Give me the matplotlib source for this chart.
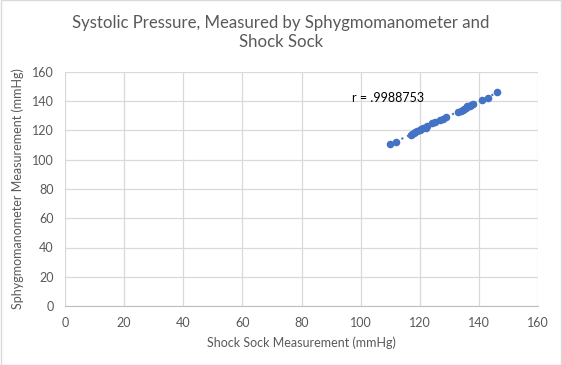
import matplotlib
matplotlib.use("Agg")
import matplotlib.pyplot as plt
import numpy as np

# Data
sock = [110, 112, 117, 117.5, 118, 118.5, 119, 120, 120.5, 121, 122, 122.5,
        124, 125, 127, 128, 129, 133, 134, 134.5, 135, 135.5, 136, 137,
        137.5, 138, 141, 143, 146]
sphyg = [111, 112, 117, 117.5, 118, 119, 119.5, 120, 121, 121.5, 122, 123,
         125, 125.5, 127, 128, 129, 132.5, 133.5, 134, 135, 135.5, 136.5, 137,
         137.5, 138, 141, 142.5, 146]
x_ticks = [0, 20, 40, 60, 80, 100, 120, 140, 160]
y_ticks = [0, 20, 40, 60, 80, 100, 120, 140, 160]
r_label = "r = .9988753"

plt.rcParams['font.family'] = ['Lato', 'DejaVu Sans']

fig = plt.figure(figsize=(5.62, 3.65), dpi=100)
ax = fig.add_axes([65/562, 59/365, 473/562, 234/365])

blue = '#4472C4'
grid_c = '#D9D9D9'
text_c = '#595959'

ax.scatter(sock, sphyg, s=30, color=blue, zorder=3, linewidths=0)

# linear trendline (dotted), fitted to the data
m, b = np.polyfit(sock, sphyg, 1)
xs = np.array([min(sock), max(sock)])
ax.plot(xs, m * xs + b, color=blue, lw=1.5, ls=(0, (1, 2)), zorder=2)

ax.text(97, 142, r_label, fontsize=9, color='black', va='center', ha='left')

ax.set_xlim(0, 160)
ax.set_ylim(0, 160)
ax.set_xticks(x_ticks)
ax.set_yticks(y_ticks)
ax.grid(True, color=grid_c, lw=0.9)
ax.set_axisbelow(True)
for s in ['top', 'right', 'left']:
    ax.spines[s].set_visible(False)
ax.spines['bottom'].set_color('#BFBFBF')
ax.tick_params(length=0, labelsize=9, colors=text_c, pad=8)

ax.set_xlabel('Shock Sock Measurement (mmHg)', fontsize=9, color=text_c, labelpad=5)
ax.set_ylabel('Sphygmomanometer Measurement (mmHg)', fontsize=9, color=text_c, labelpad=6)

fig.text(0.5, 1 - 15/365, 'Systolic Pressure, Measured by Sphygmomanometer and\nShock Sock',
         ha='center', va='top', fontsize=12.1, color=text_c, linespacing=1.2)

fig.patches.append(plt.Rectangle((0.001, 0.001), 0.998, 0.998, transform=fig.transFigure,
                                 fill=False, edgecolor='#D9D9D9', lw=1))

fig.savefig('out.png', dpi=100)
